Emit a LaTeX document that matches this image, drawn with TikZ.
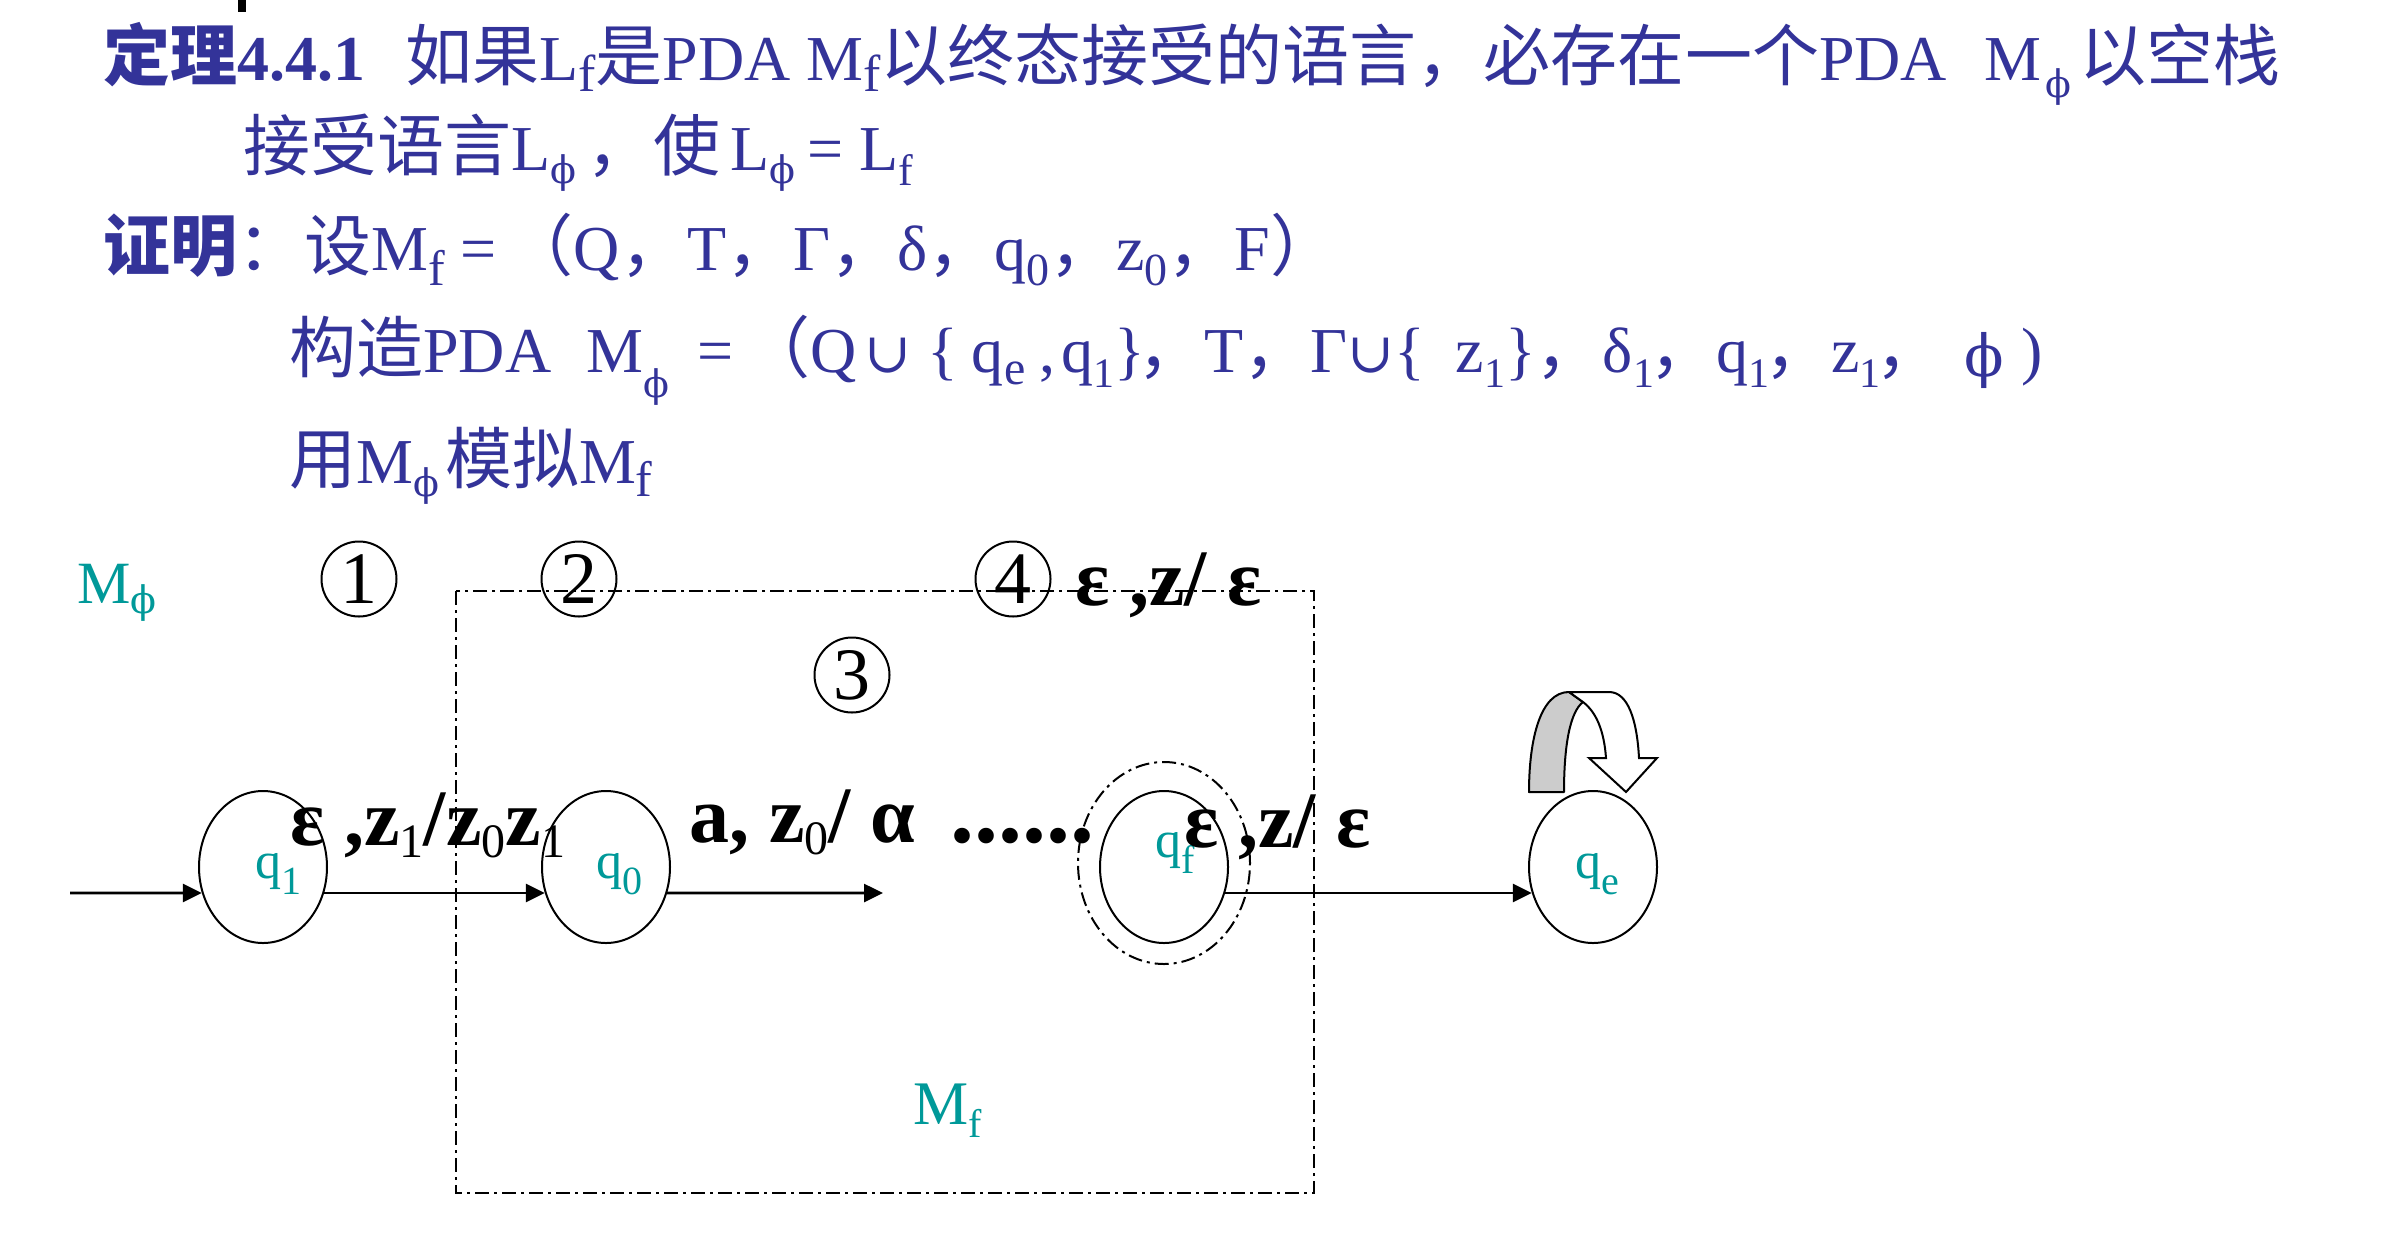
\documentclass[tikz,border=0pt]{standalone}
\usepackage{fontspec}
\setmainfont{Liberation Serif}
\newfontfamily\cjk[Scale=1.047]{Noto Sans CJK SC}
\newfontfamily\symf{DejaVu Serif}
\usetikzlibrary{shapes.geometric,arrows.meta}
\definecolor{tblue}{RGB}{51,51,153}
\definecolor{tealc}{RGB}{0,153,153}
\newcommand\fs[1]{\fontsize{#1}{#1}\selectfont}
\newcommand\C[1]{{\cjk #1}}
\newcommand\sbs[3]{\raisebox{-#1pt}{\fs{#2}#3}}
\newcommand\ph{{\symf ϕ}}
\newcommand\cupp{{\fs{56}\symf ∪}}
\tikzset{
  hdr/.style={anchor=base west,inner sep=0pt,text=tblue,font={\fs{64}}},
  lbl/.style={anchor=base west,inner sep=0pt,text=black,font={\fs{80}\bfseries}},
  tl/.style={anchor=base west,inner sep=0pt,text=tealc},
  state/.style={ellipse,draw,line width=2pt,minimum width=128pt,minimum height=152pt,inner sep=0pt},
  num/.style={circle,draw,line width=2pt,minimum size=75pt,inner sep=0pt,font={\fs{74}}},
  dd/.style={line width=2pt,dash pattern=on 14pt off 5pt on 3pt off 5pt},
  arr/.style={line width=2.6pt,-{Triangle[length=19pt,width=18pt]}}
}
\begin{document}
\begin{tikzpicture}[x=1pt,y=1pt]
\useasboundingbox (0,0) rectangle (2384,-1240);
\fill[white] (0,0) rectangle (2384,-1240);
\fill[black] (238,0) rectangle (246,-12);
% header text
\node[hdr] (l1) at (103,-80) {{\bfseries\C{定理}4.4.1}\hspace{40pt}\C{如果}L\sbs{11}{52}{f}\C{是}PDA M\sbs{11}{52}{f}\C{以终态接受的语言，必存在一个}PDA\hspace{38pt}M\hspace{4pt}\sbs{17}{38}{\ph}\hspace{8pt}\C{以空栈}};
\node[hdr] (l2) at (243,-170) {\C{接受语言}L\sbs{13}{38}{\ph}\hspace{10pt}\C{，使}\hspace{10pt}L\sbs{13}{38}{\ph}\hspace{12pt}=\hspace{16pt}L\sbs{15}{44}{f}};
\node[hdr] (l3) at (103,-270) {{\bfseries\C{证明}}\C{：设}M\sbs{15}{50}{f}\hspace{16pt}=\hspace{10pt}\C{（}Q\C{，}T\C{，}Γ\C{，}δ\C{，}q\sbs{15}{46}{0}\C{，}z\sbs{15}{46}{0}\C{，}F\C{）}};
\node[hdr] (l4) at (289,-372) {\C{构造}PDA\hspace{35pt}M\sbs{25}{38}{\ph}\hspace{28pt}=\hspace{10pt}\C{（}Q\hspace{8pt}\cupp\hspace{16pt}\{\hspace{14pt}q\sbs{12}{48}{e}\hspace{14pt},\hspace{6pt}q\sbs{15}{42}{1}\}\hspace{-8pt}\C{，}T\C{，}Γ\cupp\{\hspace{31pt}z\sbs{15}{42}{1}\}\C{，}δ\sbs{15}{42}{1}\hspace{-5pt}\C{，}q\sbs{15}{42}{1}\hspace{-5pt}\C{，}z\sbs{15}{42}{1}\hspace{-5pt}\C{，}\hspace{22pt}\raisebox{-4pt}{\fs{58}\ph}\hspace{17pt})};
\node[hdr] (l5) at (289,-483) {\C{用}M\sbs{13}{38}{\ph}\hspace{6pt}\C{模拟}M\sbs{13}{50}{f}};
% diagram
\draw[dd] (456,-591) rectangle (1314,-1193);
\node[tl,font={\fs{60}}] (mphi) at (77,-603) {M\sbs{10}{38}{\ph}};
\node[tl,font={\fs{62}}] (mf) at (913,-1124) {M\sbs{13}{40}{f}};
\node[num] (n1) at (359,-579) {1};
\node[num] (n2) at (579,-579) {2};
\node[num] (n3) at (852,-675) {3};
\node[num] (n4) at (1013,-579) {4};
\node[state] (q1) at (263,-867) {};
\node[state] (q0) at (606,-867) {};
\node[state] (qf) at (1164,-867) {};
\node[state] (qe) at (1593,-867) {};
\draw[dd] (1164,-863) ellipse [x radius=86pt,y radius=101pt];
\node[tl,font={\fs{52}}] (t1) at (255,-878) {q\sbs{16}{40}{1}};
\node[tl,font={\fs{52}}] (t0) at (596,-878) {q\sbs{16}{40}{0}};
\node[tl,font={\fs{52}}] (tf) at (1155,-857) {q\sbs{16}{40}{f}};
\node[tl,font={\fs{52}}] (te) at (1575,-878) {q\sbs{16}{40}{e}};
\coordinate (start) at (70,-893);
\coordinate (dend) at (883,-893);
\draw[arr] (start) -- (q1.203);
\draw[arr] (q1.-23) -- (q0.203);
\draw[arr] (q0.-23) -- (dend);
\draw[arr] (qf.-23) -- (qe.203);
\node[lbl] (a1) at (290,-845) {ε ,z\sbs{12}{48}{\mdseries 1}/z\sbs{12}{48}{\mdseries 0}z\sbs{12}{48}{\mdseries 1}};
\node[lbl] (a2) at (689,-842) {a, z\sbs{12}{48}{\mdseries 0}/ α};
\node[lbl,font={\fs{96}\bfseries}] (dots) at (950,-842) {......};
\node[lbl] (a3) at (1184,-847) {ε ,z/ ε};
\node[lbl] (a4) at (1075,-605) {ε ,z/ ε};
% self loop block arrow
\filldraw[fill=black!20,draw=black,line width=2pt,line join=round]
  (1529,-792) .. controls (1529,-740) and (1540,-692) .. (1569,-692)
  -- (1583,-702) .. controls (1570,-712) and (1564,-745) .. (1564,-792) -- cycle;
\filldraw[fill=white,draw=black,line width=2pt,line join=miter]
  (1569,-692) -- (1609,-692) .. controls (1628,-692) and (1637,-720) .. (1639,-758)
  -- (1657,-758) -- (1626,-792) -- (1589,-758) -- (1606,-758)
  .. controls (1604,-730) and (1596,-712) .. (1583,-702) -- cycle;
\end{tikzpicture}
\end{document}
